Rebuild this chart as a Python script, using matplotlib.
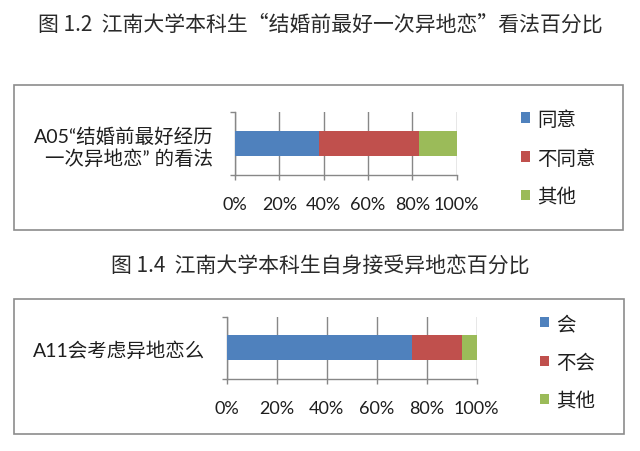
import numpy as np
import matplotlib
matplotlib.use('Agg')
import matplotlib.pyplot as plt
from matplotlib.patches import Rectangle

plt.rcParams['font.family'] = ['Lato', 'Noto Sans CJK SC', 'DejaVu Sans']

# dados
titulo1 = '图 1.2  江南大学本科生“结婚前最好一次异地恋”看法百分比'
cat1 = ['A05“结婚前最好经历\n一次异地恋” 的看法']
leg1 = ['同意', '不同意', '其他']
val1 = [38, 45, 17]

titulo2 = '图 1.4  江南大学本科生自身接受异地恋百分比'
cat2 = ['A11会考虑异地恋么']
leg2 = ['会', '不会', '其他']
val2 = [74, 20, 6]

cores = ['#4F81BD', '#C0504D', '#9BBB59']
xticks = [0, 20, 40, 60, 80, 100]
cinza = '#878787'
texto = '#1e1e1e'

W, H = 640, 452
fig = plt.figure(figsize=(W / 100, H / 100), dpi=100)


def caixa(x0, y0, x1, y1):
    # pixels -> fracao da figura
    return [x0 / W, 1 - y1 / H, (x1 - x0) / W, (y1 - y0) / H]


def barra(pos, cat, leg, val, leg_xy):
    ax = fig.add_axes(caixa(*pos))
    esq = 0
    for i in range(len(val)):
        ax.barh(0, val[i], left=esq, height=0.4, color=cores[i], label=leg[i], zorder=3)
        esq += val[i]
    ax.set_xlim(0, 100)
    ax.set_ylim(-0.5, 0.5)
    ax.set_xticks(xticks)
    ax.set_xticklabels([str(t) + '%' for t in xticks], fontsize=13, color=texto)
    ax.set_yticks([0])
    ax.set_yticklabels(cat, fontsize=14, color=texto)
    ax.set_yticks([-0.5, 0.5], minor=True)
    ax.tick_params(axis='y', which='major', length=0, pad=15.5)
    ax.tick_params(axis='y', which='minor', length=3.6, width=1, color=cinza, direction='out')
    ax.tick_params(axis='x', length=3.6, width=1, color=cinza, direction='out', pad=11.5)
    ax.grid(True, axis='x', color=cinza, linewidth=1, zorder=0)
    ax.set_axisbelow(True)
    for s in ['top', 'right']:
        ax.spines[s].set_visible(False)
    for s in ['left', 'bottom']:
        ax.spines[s].set_color(cinza)
        ax.spines[s].set_linewidth(1)
    ax.patch.set_alpha(0)
    ax.legend(loc='center left', bbox_to_anchor=(leg_xy[0] / W, 1 - leg_xy[1] / H),
              bbox_transform=fig.transFigure, frameon=False, fontsize=14,
              handlelength=0.45, handleheight=0.45, handletextpad=0.4,
              labelspacing=1.05, borderpad=0, borderaxespad=0, labelcolor=texto)
    return ax


# molduras
for (x0, y0, x1, y1) in [(14, 86, 623, 230.5), (14, 299.5, 624, 435)]:
    fig.patches.append(Rectangle((x0 / W, 1 - y1 / H), (x1 - x0) / W, (y1 - y0) / H,
                                 transform=fig.transFigure, fill=False,
                                 edgecolor='#8c8c8c', linewidth=1.2))

fam_tit = ['Noto Sans CJK SC', 'DejaVu Sans']
fig.text(0.5, 1 - 25 / H, titulo1, ha='center', va='center', fontsize=15,
         color='#2a2a2a', family=fam_tit)
fig.text(0.5, 1 - 267 / H, titulo2, ha='center', va='center', fontsize=15,
         color='#2a2a2a', family=fam_tit)

barra((235, 113.3, 456.7, 176), cat1, leg1, val1, (521, 158))
barra((226.7, 317.7, 476.7, 380), cat2, leg2, val2, (540, 362.5))

fig.savefig('out.png', dpi=100)
